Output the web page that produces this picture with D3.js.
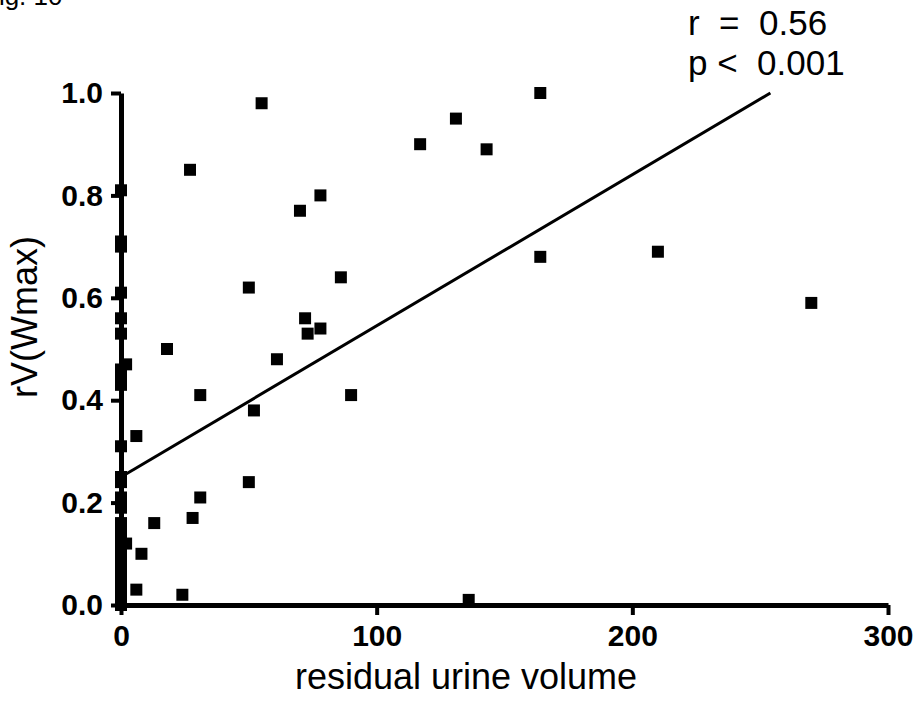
<!DOCTYPE html>
<html>
<head>
<meta charset="utf-8">
<script src="https://cdn.jsdelivr.net/npm/d3@7"></script>
<style>
  body { margin: 0; background: #fff; }
  svg { display: block; font-family: Arial, "Liberation Sans", sans-serif; }
</style>
</head>
<body>
<div id="chart"></div>
<script>
// data
var residualVolume = [55, 27, 70, 78, 117, 131, 143, 164, 164, 210, 270,
    50, 86, 72, 73, 78, 61, 18, 90, 52, 31, 6, 2,
    50, 31, 28, 13, 8, 2, 6, 24, 136,
    0, 0, 0, 0, 0, 0, 0, 0, 0, 0, 0, 0, 0, 0, 0, 0, 0, 0, 0, 0, 0, 0, 0, 0];
var rvWmax = [0.98, 0.85, 0.77, 0.80, 0.90, 0.95, 0.89, 1.00, 0.68, 0.69, 0.59,
    0.62, 0.64, 0.56, 0.53, 0.54, 0.48, 0.50, 0.41, 0.38, 0.41, 0.33, 0.47,
    0.24, 0.21, 0.17, 0.16, 0.10, 0.12, 0.03, 0.02, 0.01,
    0.81, 0.71, 0.70, 0.61, 0.56, 0.53, 0.46, 0.44, 0.43, 0.31, 0.25, 0.24,
    0.21, 0.20, 0.19, 0.16, 0.14, 0.12, 0.10, 0.08, 0.06, 0.04, 0.02, 0.00];

// regression line ends
var fitX = [0, 254];
var fitY = [0.25, 1.0];

var xTicks = [0, 100, 200, 300];
var yTicks = [0, 0.2, 0.4, 0.6, 0.8, 1.0];
var statLines = ["r  =  0.56", "p <  0.001"];

var width = 918;
var height = 714;

var svg = d3.select("#chart")
    .append("svg")
    .attr("width", width)
    .attr("height", height);

var x = d3.scaleLinear().domain([0, 300]).range([121, 888]);
var y = d3.scaleLinear().domain([0, 1]).range([605, 93]);

// figure label, cut off at the page edge
svg.append("text")
    .attr("x", -17)
    .attr("y", 5)
    .style("font-size", "26px")
    .text("Fig. 10");

// axes
var xAxis = svg.append("g")
    .attr("transform", "translate(0," + y(0) + ")")
    .call(d3.axisBottom(x).tickValues(xTicks).tickFormat(d3.format("d"))
        .tickSize(10).tickSizeOuter(0).tickPadding(10));

var yAxis = svg.append("g")
    .attr("transform", "translate(" + x(0) + ",0)")
    .call(d3.axisLeft(y).tickValues(yTicks).tickFormat(d3.format(".1f"))
        .tickSize(10).tickSizeOuter(0).tickPadding(8));

[xAxis, yAxis].forEach(function(a) {
    a.attr("font-size", 30).attr("font-family", "Arial, 'Liberation Sans', sans-serif");
    a.select(".domain").attr("stroke-width", 5);
    a.selectAll(".tick line").attr("stroke-width", 4);
    a.selectAll(".tick text")
        .attr("fill", "#000")
        .attr("font-weight", "bold");
});

// regression line
svg.append("line")
    .attr("x1", x(fitX[0]))
    .attr("y1", y(fitY[0]))
    .attr("x2", x(fitX[1]))
    .attr("y2", y(fitY[1]))
    .attr("stroke", "#000")
    .attr("stroke-width", 3);

// points
svg.append("g")
    .selectAll("path")
    .data(residualVolume)
    .enter().append("path")
    .attr("d", d3.symbol().type(d3.symbolSquare).size(144))
    .attr("transform", function(d, i) {
        return "translate(" + x(d) + "," + y(rvWmax[i]) + ")";
    })
    .attr("fill", "#000");

// axis titles
svg.append("text")
    .attr("x", 466)
    .attr("y", 689)
    .attr("text-anchor", "middle")
    .style("font-size", "36px")
    .text("residual urine volume");

svg.append("text")
    .attr("transform", "translate(37,317) rotate(-90)")
    .attr("text-anchor", "middle")
    .style("font-size", "36px")
    .text("rV(Wmax)");

// stats
svg.selectAll(".stat")
    .data(statLines)
    .enter().append("text")
    .attr("class", "stat")
    .attr("x", 688)
    .attr("y", function(d, i) { return 35 + i * 40; })
    .style("font-size", "35px")
    .style("white-space", "pre")
    .text(function(d) { return d; });
</script>
</body>
</html>
